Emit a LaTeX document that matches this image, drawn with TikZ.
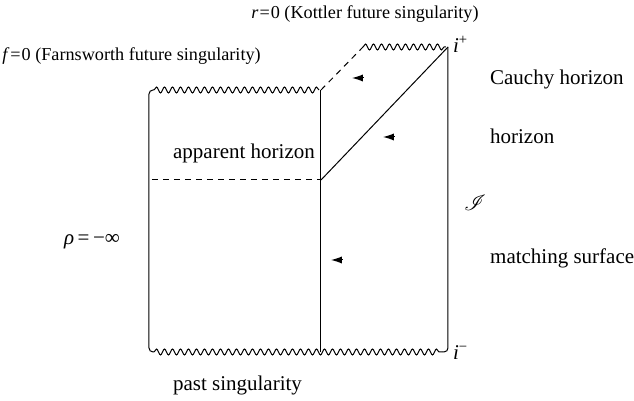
\documentclass[tikz,border=0pt]{standalone}
\usepackage{fontspec}
\setmainfont{Liberation Serif}
\usepackage{mathrsfs}
\usepackage{tikz}
\usetikzlibrary{arrows.meta, decorations.pathmorphing}

\tikzset{
  sing/.style={decorate, decoration={snake, amplitude=1.5pt, segment length=4pt}},
  horiz/.style={dashed, dash pattern=on 3pt off 2.5pt},
  flowtip/.style={-{Latex[length=5.5pt, width=3.6pt]}},
  toplabel/.style={font=\fontsize{9.1}{11}\selectfont},
}

\begin{document}
\begin{tikzpicture}[x=10pt, y=10pt, line width=0.5pt, font=\fontsize{10.5}{12}\selectfont]
        \useasboundingbox (0,0) rectangle (31.7,20.05);
        % corners of the diagram
        \coordinate (bl) at (7.45,2.45);
        \coordinate (tl) at (7.45,15.55);
        \coordinate (bm) at (16.05,2.45);
        \coordinate (tm) at (16.05,15.55);
        \coordinate (am) at (16.05,11.05);
        \coordinate (br) at (22.4,2.45);
        \coordinate (tr) at (22.4,17.7);
        \coordinate (kl) at (18.15,17.7);

        % left edge and singularities
        \draw[rounded corners=2pt] (7.7,2.45) -- (bl) -- (tl) -- (7.7,15.55);
        \draw[sing] (7.7,15.55) -- (15.95,15.55);
        \draw[sing] (7.7,2.45) -- (22.15,2.45);
        \draw[rounded corners=2pt] (22.15,2.45) -- (br) -- (tr);
        \draw[sing] (kl) -- (22.3,17.7);

        % matching surface, horizons
        \draw (bm) -- (tm);
        \draw[horiz] (tm) -- (kl);
        \draw[horiz] (7.6,11.05) -- (am);
        \draw (am) -- (tr);

        % small arrows
        \draw[flowtip] (18.2,16.15) -- (17.6,16.15);
        \draw[flowtip] (19.75,13.2) -- (19.15,13.2);
        \draw[flowtip] (17.15,7.05) -- (16.55,7.05);

        % labels
        \node[toplabel] (kot) at (18.25,19.35) {\textit{r}\kern0.5pt=\kern0.5pt0 (Kottler future singularity)};
        \node[toplabel] (far) at (6.575,17.25) {\textit{f}\kern0.5pt=\kern0.5pt0 (Farnsworth future singularity)};
        \node[anchor=west] (ip) at (22.3,17.85) {\textit{i}\textsuperscript{+}};
        \node[anchor=west] (cau) at (24.15,16.1) {Cauchy horizon};
        \node[anchor=west] (hor) at (24.15,13.25) {horizon};
        \node (scri) at (23.75,9.9) {$\mathscr{I}$};
        \node[anchor=west] (mat) at (24.15,7.15) {matching surface};
        \node[anchor=east] (app) at (16.1,12.4) {apparent horizon};
        \node (rho) at (4.6,7.95) {\textit{ρ}\,=\,−∞};
        \node[anchor=west] (im) at (22.3,2.4) {\textit{i}\textsuperscript{−}};
        \node (past) at (11.875,0.8) {past singularity};
    \end{tikzpicture}
\end{document}
